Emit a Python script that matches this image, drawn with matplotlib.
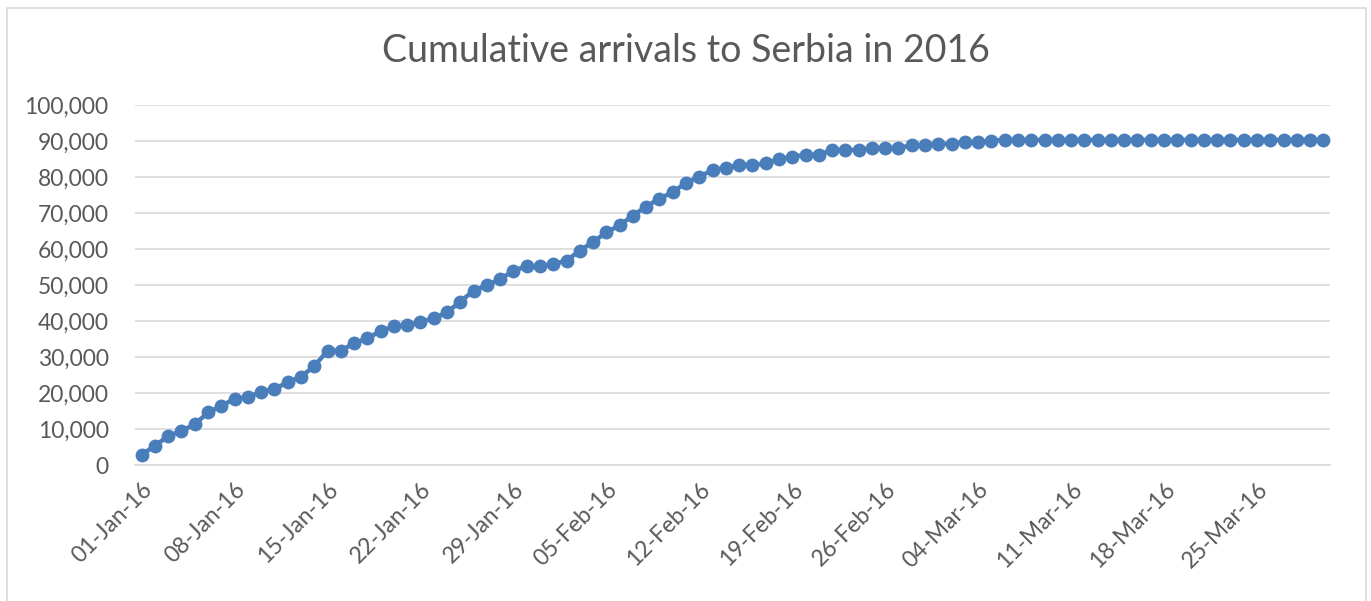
import numpy as np
import pandas as pd
import matplotlib
matplotlib.use("Agg")
import matplotlib.pyplot as plt
import matplotlib.dates as mdates
from matplotlib.patches import Rectangle

# daily cumulative arrivals, 01-Jan-16 .. 30-Mar-16
dates = pd.date_range("2016-01-01", "2016-03-30", freq="D")
arrivals = [
    2800, 5400, 8000, 9500, 11300, 14600, 16400, 18400, 18800, 20400,
    21100, 23000, 24500, 27500, 31700, 31800, 33800, 35200, 37200, 38500,
    38800, 39800, 40700, 42400, 45400, 48400, 49900, 51700, 53900, 55300,
    55200, 55800, 56800, 59500, 62000, 64600, 66600, 69300, 71800, 74000,
    75800, 78400, 80100, 81900, 82600, 83200, 83300, 83800, 84900, 85600,
    86200, 86200, 87500, 87500, 87500, 88100, 88100, 88100, 88800, 88800,
    89200, 89200, 89700, 89700, 90100, 90300,
] + [90300] * 24
yticks = list(range(0, 100001, 10000))

title = "Cumulative arrivals to Serbia in 2016"
text_col = "#595959"
blue = "#4a7ebb"

plt.rcParams['font.family'] = ['Lato', 'DejaVu Sans']

fig = plt.figure(figsize=(13.71, 6.01), dpi=100)
fig.patches.append(Rectangle((7 / 1371, -0.1), (1366 - 7) / 1371, 1.1 - 8 / 601,
                             transform=fig.transFigure, fill=False,
                             edgecolor="#d9d9d9", linewidth=1.2))

ax = fig.add_axes([135 / 1371, (601 - 465) / 601, (1330 - 135) / 1371, 360 / 601])
ax.plot(dates, arrivals, color=blue, linewidth=3.2, marker="o", markersize=10,
        markeredgewidth=0, zorder=3)

ax.set_xlim(dates[0] - pd.Timedelta(hours=12), dates[-1] + pd.Timedelta(hours=12))
ax.set_ylim(0, 100000)
ax.set_yticks(yticks)
ax.yaxis.set_major_formatter(plt.FuncFormatter(lambda v, p: f"{int(v):,}"))
ax.grid(axis="y", color="#d9d9d9", linewidth=1.2)
ax.set_axisbelow(True)

ax.set_xticks(dates[::7])
ax.xaxis.set_major_formatter(mdates.DateFormatter("%d-%b-%y"))
for lbl in ax.get_xticklabels():
    lbl.set_rotation(45)
    lbl.set_ha("right")
    lbl.set_rotation_mode("anchor")

ax.tick_params(axis="both", length=0, labelsize=16.5, colors=text_col, pad=10)
ax.tick_params(axis="y", pad=19)
for s in ax.spines.values():
    s.set_visible(False)
ax.spines["bottom"].set_visible(True)
ax.spines["bottom"].set_color("#d9d9d9")
ax.spines["bottom"].set_linewidth(1.2)

fig.text(0.5, 1 - 51 / 601, title, ha="center", va="center", fontsize=27, color=text_col)

fig.savefig("out.png", dpi=100)
